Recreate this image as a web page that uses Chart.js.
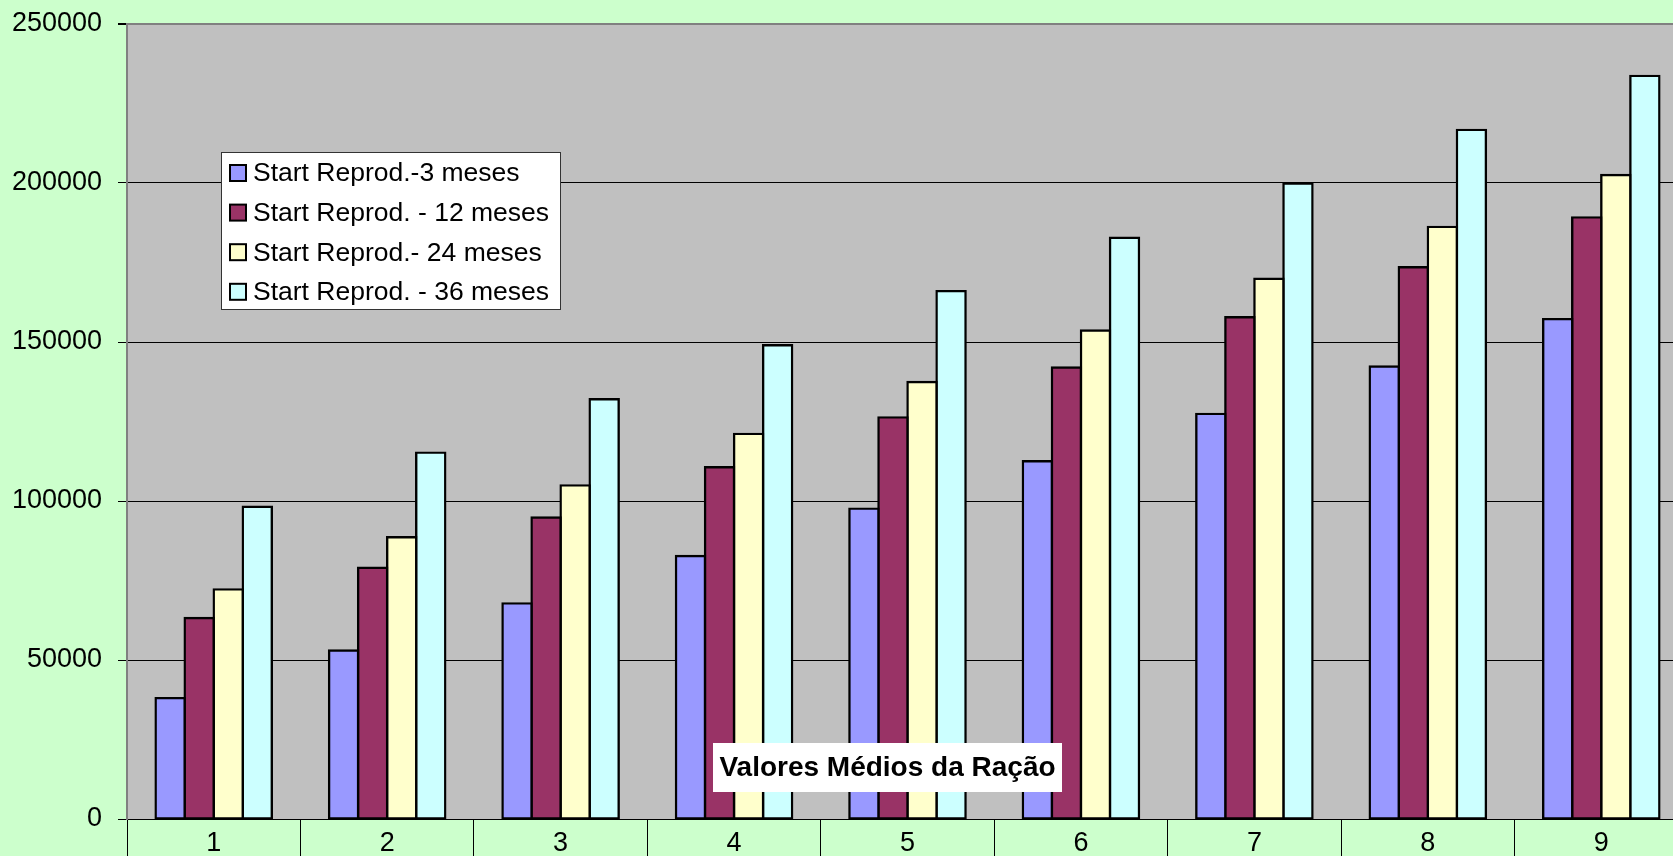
<!DOCTYPE html>
<html>
<head>
<meta charset="utf-8">
<script src="https://cdn.jsdelivr.net/npm/chart.js@4.4.0/dist/chart.umd.min.js"></script>
<style>
  html, body { margin: 0; padding: 0; overflow: hidden; background: #CCFFCC; }
  #wrap { width: 1688px; height: 856px; }
</style>
</head>
<body>
<div id="wrap"><canvas id="c" width="1688" height="856"></canvas></div>
<script>
// Category labels along the x axis
const categories = ['1', '2', '3', '4', '5', '6', '7', '8', '9'];

// Series names
const seriesNames = [
  'Start Reprod.-3 meses',
  'Start Reprod. - 12 meses',
  'Start Reprod.- 24 meses',
  'Start Reprod. - 36 meses'
];

// Series values
const reprod3  = [38000, 53000, 67800, 82700, 97600, 112500, 127400, 142300, 157200];
const reprod12 = [63200, 79000, 94800, 110600, 126300, 142000, 157800, 173500, 189200];
const reprod24 = [72200, 88600, 104900, 121100, 137400, 153600, 169900, 186200, 202500];
const reprod36 = [98200, 115200, 132000, 149000, 166000, 182800, 199800, 216700, 233700];

// Value axis ticks
const yTicks = [0, 50000, 100000, 150000, 200000, 250000];

const axisTitle = 'Valores Médios da Ração';

const seriesColors = ['#9999FF', '#993366', '#FFFFCC', '#CCFFFF'];
const seriesValues = [reprod3, reprod12, reprod24, reprod36];

const FONT = '"Liberation Sans", Arial, sans-serif';

// Page and plot-area fills
const backdrop = {
  id: 'backdrop',
  beforeDraw(chart) {
    const { ctx, chartArea: a } = chart;
    ctx.save();
    ctx.fillStyle = '#CCFFCC';
    ctx.fillRect(0, 0, chart.width, chart.height);
    ctx.fillStyle = '#C0C0C0';
    ctx.fillRect(a.left, a.top, a.right - a.left, a.bottom - a.top);
    ctx.restore();
  }
};

// Boxed legend inside the plot and the boxed axis title over the bars
const overlays = {
  id: 'overlays',
  afterDraw(chart) {
    const { ctx } = chart;
    ctx.save();

    // legend box
    const lx = 221, ly = 152, lw = 339, lh = 157;
    ctx.fillStyle = '#FFFFFF';
    ctx.fillRect(lx, ly, lw, lh);
    ctx.strokeStyle = '#333333';
    ctx.lineWidth = 1;
    ctx.strokeRect(lx + 0.5, ly + 0.5, lw, lh);
    ctx.font = '26.5px ' + FONT;
    ctx.textBaseline = 'middle';
    ctx.textAlign = 'left';
    chart.data.datasets.forEach((ds, i) => {
      const cy = ly + 21 + i * 39.6;
      ctx.fillStyle = ds.backgroundColor;
      ctx.fillRect(lx + 9, cy - 8, 16, 16);
      ctx.strokeStyle = '#000000';
      ctx.lineWidth = 2;
      ctx.strokeRect(lx + 9, cy - 8, 16, 16);
      ctx.fillStyle = '#000000';
      ctx.fillText(ds.label, lx + 32, cy + 1);
    });

    // axis title box
    const tx = 713, ty = 743, tw = 349, th = 49;
    ctx.fillStyle = '#FFFFFF';
    ctx.fillRect(tx, ty, tw, th);
    ctx.fillStyle = '#000000';
    ctx.font = 'bold 28px ' + FONT;
    ctx.textAlign = 'center';
    ctx.textBaseline = 'middle';
    ctx.fillText(axisTitle, tx + tw / 2, ty + th / 2 + 1);

    ctx.restore();
  }
};

new Chart(document.getElementById('c'), {
  type: 'bar',
  data: {
    labels: categories,
    datasets: seriesNames.map((name, i) => ({
      label: name,
      data: seriesValues[i],
      backgroundColor: seriesColors[i],
      borderColor: '#000000',
      borderWidth: 2.4,
      borderSkipped: false,
      inflateAmount: 1.2,
      categoryPercentage: 0.67,
      barPercentage: 1.0
    }))
  },
  options: {
    responsive: false,
    animation: false,
    devicePixelRatio: 1,
    layout: { padding: { top: 24, left: 0, right: 0, bottom: 0 } },
    plugins: {
      legend: { display: false },
      title: { display: false },
      tooltip: { enabled: false }
    },
    scales: {
      x: {
        afterFit(scale) {
          scale.height = 37;
          scale.paddingLeft = 0;
          scale.paddingRight = 0;
        },
        grid: {
          offset: true,
          drawOnChartArea: false,
          drawTicks: true,
          tickLength: 40,
          color: '#000000',
          lineWidth: 1
        },
        border: { display: true, color: '#000000', width: 1 },
        ticks: {
          padding: -32,
          color: '#000000',
          font: { family: FONT, size: 27 }
        }
      },
      y: {
        min: 0,
        max: 250000,
        afterFit(scale) {
          scale.width = 127;
          scale.paddingTop = 0;
          scale.paddingBottom = 0;
        },
        afterBuildTicks(scale) { scale.ticks = yTicks.map(v => ({ value: v })); },
        grid: {
          color: c => (c.tick && c.tick.value === 250000 ? '#808080' : '#000000'),
          lineWidth: c => (c.tick && c.tick.value === 250000 ? 2 : 1),
          tickColor: '#000000',
          tickLength: 9
        },
        border: { display: true, color: '#808080', width: 2 },
        ticks: {
          padding: 16,
          color: '#000000',
          font: { family: FONT, size: 27 },
          callback: v => String(v)
        }
      }
    }
  },
  plugins: [backdrop, overlays]
});
</script>
</body>
</html>
